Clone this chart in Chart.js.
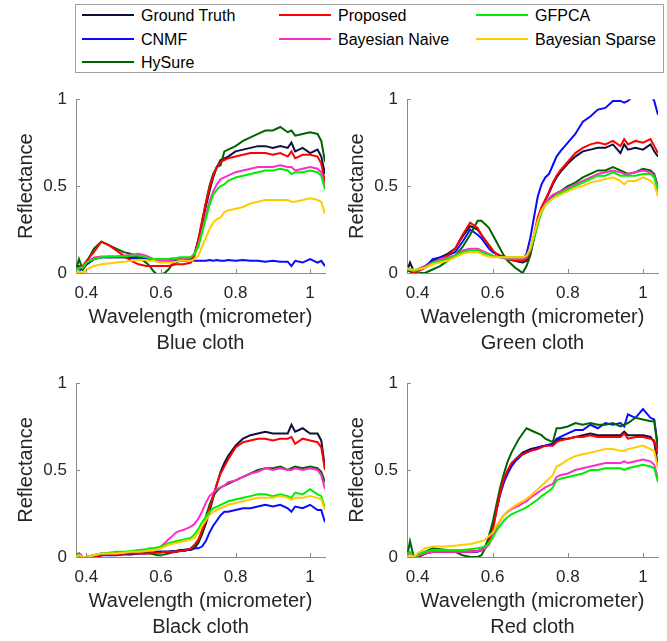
<!DOCTYPE html>
<html>
<head>
<meta charset="utf-8">
<script src="https://cdn.jsdelivr.net/npm/chart.js@4"></script>
<style>
  body { margin: 0; background: #fff; font-family: 'Liberation Sans', Arial, sans-serif; }
  #wrap { position: relative; width: 667px; height: 641px; overflow: hidden; }
  canvas { position: absolute; }
  #legendBox { position: absolute; left: 75px; top: 4px; width: 587px; height: 67px; border: 1px solid #a0a0a0; }
  .sample { position: absolute; width: 52px; height: 2px; }
  .entry { position: absolute; font-size: 16px; line-height: 20px; color: #000; white-space: nowrap; }
</style>
</head>
<body>
<div id="wrap">
  <div id="legendBox"></div>
  <canvas id="blueCloth"></canvas>
  <canvas id="greenCloth"></canvas>
  <canvas id="blackCloth"></canvas>
  <canvas id="redCloth"></canvas>
</div>
<script>
// wavelengths in micrometer (shared by all panels)
const wavelength = [0.372, 0.38, 0.39, 0.40, 0.42, 0.44, 0.46, 0.48, 0.50, 0.52, 0.54, 0.56,
  0.57, 0.58, 0.59, 0.60, 0.61, 0.62, 0.63, 0.64, 0.65, 0.66, 0.67, 0.68, 0.69, 0.70, 0.71, 0.72, 0.73, 0.74, 0.75, 0.76, 0.77, 0.78,
  0.80, 0.82, 0.84, 0.86, 0.88, 0.90, 0.92, 0.94,
  0.95, 0.96, 0.98, 1.00, 1.02, 1.03, 1.04];
const xTicks = [0.4, 0.6, 0.8, 1];
const yTicks = [0, 0.5, 1];

const seriesNames = ["Ground Truth", "CNMF", "HySure", "Proposed", "Bayesian Naive", "GFPCA", "Bayesian Sparse"];
const seriesColors = ["#10103c", "#0a0aff", "#006400", "#ff0000", "#ff2ccc", "#00ee00", "#ffcc00"];

// Blue cloth
const blueGT = [0.03,0.04,0.02,0.05,0.08,0.09,0.09,0.09,0.09,0.09,0.09,0.08,
  0.08,0.075,0.07,0.07,0.07,0.07,0.07,0.07,0.07,0.07,0.07,0.08,0.11,0.18,0.28,0.38,0.47,0.55,0.61,0.65,0.66,0.67,
  0.70,0.71,0.72,0.73,0.73,0.72,0.73,0.72,
  0.75,0.70,0.72,0.69,0.71,0.67,0.57];
const blueCNMF = [0.0,0.01,0.03,0.05,0.08,0.09,0.09,0.09,0.09,0.085,0.085,0.08,
  0.08,0.08,0.08,0.075,0.075,0.075,0.075,0.075,0.075,0.075,0.075,0.075,0.07,0.07,0.07,0.07,0.075,0.07,0.075,0.07,0.07,0.075,
  0.07,0.075,0.07,0.07,0.065,0.07,0.065,0.065,
  0.04,0.07,0.06,0.08,0.06,0.07,0.04];
const blueHySure = [0.02,0.08,0.02,0.06,0.14,0.18,0.16,0.14,0.12,0.11,0.09,0.06,
  0.04,0.01,-0.01,-0.01,0.0,0.02,0.05,0.06,0.07,0.07,0.075,0.08,0.11,0.19,0.29,0.40,0.50,0.57,0.61,0.62,0.70,0.71,
  0.73,0.76,0.78,0.80,0.82,0.82,0.84,0.81,
  0.82,0.79,0.80,0.81,0.80,0.76,0.64];
const blueProposed = [0.02,0.03,0.04,0.07,0.12,0.18,0.16,0.13,0.10,0.07,0.05,0.04,
  0.04,0.04,0.04,0.04,0.04,0.04,0.045,0.05,0.05,0.05,0.055,0.06,0.10,0.19,0.30,0.40,0.49,0.56,0.61,0.64,0.65,0.66,
  0.67,0.68,0.69,0.69,0.69,0.68,0.69,0.67,
  0.70,0.66,0.68,0.68,0.67,0.63,0.52];
const blueNaive = [0.02,0.03,0.03,0.06,0.09,0.095,0.095,0.095,0.10,0.105,0.11,0.10,
  0.09,0.08,0.075,0.07,0.07,0.07,0.075,0.08,0.08,0.08,0.085,0.09,0.11,0.16,0.24,0.33,0.41,0.47,0.51,0.54,0.55,0.56,
  0.58,0.59,0.60,0.61,0.61,0.61,0.62,0.61,
  0.61,0.59,0.60,0.61,0.60,0.58,0.50];
const blueGFPCA = [0.02,0.03,0.03,0.06,0.08,0.09,0.095,0.095,0.095,0.10,0.10,0.09,
  0.085,0.08,0.08,0.08,0.08,0.08,0.085,0.085,0.09,0.09,0.09,0.09,0.11,0.15,0.23,0.31,0.39,0.45,0.48,0.50,0.51,0.53,
  0.55,0.56,0.57,0.58,0.59,0.59,0.60,0.59,
  0.57,0.58,0.58,0.59,0.58,0.56,0.48];
const blueSparse = [0.0,0.01,0.0,0.02,0.04,0.05,0.055,0.06,0.065,0.07,0.075,0.075,
  0.07,0.07,0.065,0.06,0.06,0.06,0.06,0.065,0.07,0.07,0.07,0.07,0.08,0.10,0.15,0.20,0.25,0.29,0.31,0.32,0.35,0.36,
  0.37,0.38,0.40,0.41,0.42,0.42,0.42,0.42,
  0.41,0.41,0.42,0.43,0.42,0.41,0.34];

// Green cloth
const greenGT = [0.01,0.06,0.01,0.02,0.04,0.07,0.09,0.11,0.14,0.21,0.27,0.25,
  0.22,0.19,0.16,0.13,0.11,0.10,0.09,0.08,0.075,0.07,0.065,0.06,0.07,0.11,0.20,0.30,0.37,0.42,0.46,0.51,0.55,0.58,
  0.63,0.67,0.70,0.71,0.72,0.72,0.74,0.69,
  0.74,0.71,0.72,0.71,0.74,0.70,0.67];
const greenCNMF = [0.02,0.01,0.0,0.01,0.03,0.08,0.09,0.10,0.12,0.18,0.25,0.22,
  0.20,0.17,0.14,0.12,0.11,0.10,0.095,0.09,0.085,0.08,0.08,0.08,0.11,0.20,0.32,0.44,0.51,0.55,0.57,0.62,0.67,0.70,
  0.75,0.80,0.87,0.90,0.94,0.95,0.99,0.99,
  0.98,0.99,1.03,1.06,1.03,0.99,0.91];
const greenHySure = [0.02,0.01,0.0,0.0,0.0,0.02,0.04,0.07,0.10,0.15,0.22,0.30,
  0.30,0.28,0.26,0.22,0.18,0.14,0.10,0.07,0.05,0.03,0.015,0.0,0.04,0.10,0.20,0.29,0.36,0.40,0.42,0.44,0.46,0.47,
  0.50,0.52,0.55,0.57,0.59,0.59,0.61,0.59,
  0.58,0.57,0.58,0.60,0.59,0.57,0.50];
const greenProposed = [0.03,0.02,0.0,0.01,0.03,0.06,0.08,0.10,0.14,0.22,0.29,0.26,
  0.22,0.19,0.16,0.13,0.11,0.10,0.09,0.08,0.075,0.07,0.07,0.07,0.08,0.12,0.22,0.32,0.38,0.42,0.47,0.52,0.56,0.59,
  0.64,0.69,0.72,0.74,0.75,0.74,0.76,0.73,
  0.77,0.74,0.76,0.75,0.77,0.73,0.69];
const greenNaive = [0.02,0.02,0.01,0.02,0.04,0.06,0.08,0.09,0.10,0.13,0.14,0.14,
  0.13,0.12,0.11,0.10,0.095,0.09,0.085,0.08,0.08,0.08,0.08,0.08,0.09,0.13,0.21,0.29,0.36,0.40,0.43,0.45,0.46,0.47,
  0.49,0.51,0.53,0.55,0.57,0.58,0.59,0.58,
  0.57,0.57,0.58,0.59,0.58,0.56,0.49];
const greenGFPCA = [0.02,0.02,0.01,0.02,0.03,0.06,0.07,0.08,0.10,0.12,0.13,0.13,
  0.12,0.11,0.105,0.10,0.095,0.09,0.09,0.09,0.09,0.09,0.09,0.09,0.10,0.13,0.20,0.28,0.35,0.39,0.41,0.43,0.45,0.46,
  0.48,0.50,0.52,0.54,0.56,0.56,0.58,0.56,
  0.56,0.56,0.56,0.57,0.57,0.55,0.47];
const greenSparse = [0.03,0.02,0.02,0.02,0.03,0.05,0.06,0.07,0.09,0.11,0.12,0.12,
  0.11,0.10,0.095,0.09,0.09,0.09,0.09,0.09,0.09,0.09,0.09,0.09,0.10,0.14,0.22,0.30,0.36,0.39,0.41,0.43,0.44,0.45,
  0.47,0.49,0.50,0.52,0.53,0.54,0.55,0.53,
  0.51,0.53,0.53,0.55,0.53,0.51,0.44];

// Black cloth
const blackGT = [0.01,0.02,0.0,0.0,0.0,0.01,0.015,0.015,0.02,0.02,0.02,0.025,
  0.025,0.025,0.03,0.03,0.03,0.03,0.03,0.03,0.035,0.035,0.04,0.04,0.05,0.08,0.13,0.19,0.26,0.34,0.42,0.49,0.54,0.58,
  0.64,0.68,0.70,0.71,0.72,0.71,0.71,0.71,
  0.76,0.72,0.74,0.71,0.71,0.67,0.51];
const blackCNMF = [0.0,0.0,0.0,0.0,0.0,0.01,0.01,0.01,0.015,0.015,0.02,0.02,
  0.025,0.025,0.03,0.03,0.03,0.03,0.035,0.035,0.04,0.04,0.045,0.045,0.05,0.05,0.06,0.09,0.14,0.18,0.21,0.24,0.26,0.26,
  0.27,0.28,0.28,0.29,0.30,0.29,0.30,0.28,
  0.26,0.29,0.28,0.30,0.27,0.27,0.20];
const blackHySure = [0.0,0.01,0.0,0.0,0.01,0.02,0.02,0.02,0.02,0.025,0.03,0.025,
  0.02,0.015,0.01,0.01,0.015,0.02,0.025,0.03,0.035,0.035,0.04,0.045,0.06,0.09,0.15,0.23,0.30,0.35,0.38,0.40,0.41,0.42,
  0.44,0.46,0.48,0.50,0.51,0.51,0.52,0.50,
  0.51,0.52,0.51,0.52,0.51,0.49,0.43];
const blackProposed = [0.01,0.01,0.0,0.0,0.0,0.01,0.015,0.015,0.02,0.02,0.02,0.02,
  0.02,0.025,0.025,0.025,0.03,0.03,0.03,0.03,0.035,0.035,0.04,0.05,0.07,0.10,0.15,0.21,0.28,0.35,0.42,0.48,0.52,0.56,
  0.63,0.66,0.67,0.68,0.68,0.67,0.68,0.68,
  0.69,0.65,0.68,0.67,0.66,0.63,0.50];
const blackNaive = [0.01,0.02,0.0,0.0,0.01,0.02,0.02,0.02,0.025,0.03,0.03,0.035,
  0.04,0.045,0.05,0.06,0.08,0.10,0.12,0.14,0.15,0.155,0.165,0.175,0.19,0.22,0.26,0.31,0.35,0.37,0.39,0.40,0.41,0.43,
  0.44,0.46,0.48,0.49,0.51,0.50,0.51,0.50,
  0.50,0.51,0.50,0.51,0.50,0.47,0.39];
const blackGFPCA = [0.01,0.01,0.0,0.0,0.01,0.02,0.025,0.03,0.03,0.035,0.04,0.045,
  0.05,0.05,0.055,0.06,0.07,0.08,0.085,0.09,0.095,0.10,0.105,0.11,0.13,0.16,0.20,0.23,0.26,0.28,0.29,0.30,0.31,0.32,
  0.33,0.34,0.35,0.36,0.36,0.35,0.36,0.35,
  0.34,0.37,0.36,0.39,0.36,0.35,0.28];
const blackSparse = [0.0,0.01,0.0,0.0,0.01,0.02,0.02,0.02,0.025,0.03,0.03,0.035,
  0.04,0.04,0.045,0.05,0.06,0.07,0.075,0.08,0.085,0.09,0.095,0.10,0.11,0.14,0.18,0.21,0.24,0.26,0.27,0.28,0.29,0.30,
  0.31,0.32,0.33,0.34,0.34,0.34,0.35,0.34,
  0.33,0.34,0.34,0.35,0.34,0.33,0.27];

// Red cloth
const redGT = [0.01,0.02,0.0,0.0,0.02,0.03,0.03,0.03,0.03,0.03,0.03,0.035,
  0.04,0.06,0.10,0.17,0.27,0.37,0.44,0.49,0.53,0.56,0.58,0.60,0.61,0.62,0.625,0.63,0.635,0.64,0.645,0.65,0.67,0.68,
  0.68,0.69,0.70,0.71,0.70,0.70,0.70,0.70,
  0.72,0.70,0.70,0.70,0.69,0.66,0.52];
const redCNMF = [0.02,0.02,0.0,0.0,0.02,0.03,0.03,0.03,0.03,0.03,0.03,0.03,
  0.04,0.06,0.10,0.17,0.27,0.36,0.43,0.48,0.52,0.55,0.57,0.59,0.60,0.61,0.62,0.63,0.635,0.64,0.645,0.65,0.68,0.69,
  0.71,0.73,0.73,0.76,0.74,0.77,0.76,0.77,
  0.75,0.82,0.80,0.85,0.80,0.79,0.63];
const redHySure = [0.0,0.09,0.0,0.01,0.03,0.05,0.045,0.04,0.03,0.01,0.0,0.0,
  0.01,0.05,0.12,0.20,0.30,0.40,0.48,0.55,0.60,0.64,0.68,0.71,0.74,0.73,0.72,0.71,0.70,0.68,0.67,0.66,0.74,0.74,
  0.75,0.77,0.76,0.77,0.76,0.76,0.77,0.75,
  0.76,0.77,0.80,0.79,0.78,0.78,0.62];
const redProposed = [0.01,0.02,0.0,0.0,0.02,0.03,0.03,0.03,0.03,0.03,0.03,0.035,
  0.04,0.05,0.09,0.15,0.26,0.37,0.45,0.50,0.54,0.56,0.58,0.59,0.60,0.61,0.615,0.62,0.63,0.64,0.64,0.64,0.66,0.67,
  0.68,0.69,0.69,0.70,0.69,0.69,0.69,0.69,
  0.71,0.68,0.69,0.69,0.68,0.67,0.59];
const redNaive = [0.01,0.02,0.0,0.01,0.02,0.03,0.03,0.03,0.03,0.03,0.03,0.035,
  0.04,0.05,0.07,0.12,0.17,0.21,0.24,0.26,0.275,0.285,0.295,0.31,0.32,0.34,0.355,0.37,0.385,0.40,0.41,0.42,0.46,0.47,
  0.48,0.50,0.51,0.52,0.53,0.54,0.54,0.54,
  0.55,0.54,0.55,0.56,0.55,0.53,0.45];
const redGFPCA = [0.02,0.03,0.0,0.01,0.03,0.04,0.04,0.04,0.04,0.04,0.045,0.05,
  0.055,0.06,0.08,0.11,0.15,0.18,0.21,0.23,0.245,0.255,0.265,0.275,0.285,0.30,0.315,0.33,0.35,0.365,0.38,0.40,0.44,0.45,
  0.46,0.47,0.48,0.50,0.50,0.51,0.51,0.51,
  0.50,0.51,0.52,0.53,0.52,0.51,0.43];
const redSparse = [0.0,0.01,0.0,0.02,0.05,0.06,0.06,0.06,0.065,0.07,0.075,0.085,
  0.09,0.10,0.12,0.14,0.18,0.21,0.24,0.265,0.28,0.295,0.31,0.32,0.335,0.35,0.37,0.39,0.41,0.43,0.45,0.47,0.52,0.53,
  0.56,0.58,0.59,0.60,0.61,0.62,0.62,0.61,
  0.61,0.62,0.63,0.64,0.62,0.61,0.51];

const axisColor = "#8a8a8a";
const textColor = "#262626";
const fontFamily = "'Liberation Sans', Arial, sans-serif";

// small tick marks pointing into the plot, like the original figure
const inwardTicks = {
  id: "inwardTicks",
  afterDraw(chart) {
    const { ctx, chartArea, scales } = chart;
    ctx.save();
    ctx.strokeStyle = axisColor;
    ctx.lineWidth = 1;
    ctx.beginPath();
    scales.x.ticks.forEach(t => {
      const px = Math.round(scales.x.getPixelForValue(t.value)) + 0.5;
      ctx.moveTo(px, chartArea.bottom);
      ctx.lineTo(px, chartArea.bottom - 4);
    });
    scales.y.ticks.forEach(t => {
      const py = Math.round(scales.y.getPixelForValue(t.value)) + 0.5;
      ctx.moveTo(chartArea.left, py);
      ctx.lineTo(chartArea.left + 4, py);
    });
    ctx.stroke();
    ctx.restore();
  }
};

function makePanel(id, cloth, series, box) {
  const canvas = document.getElementById(id);
  canvas.width = box.w;
  canvas.height = box.h;
  canvas.style.left = box.left + "px";
  canvas.style.top = box.top + "px";

  new Chart(canvas, {
    type: "line",
    data: {
      datasets: seriesNames.map((name, i) => ({
        label: name,
        data: series[i].map((v, k) => ({ x: wavelength[k], y: v })),
        borderColor: seriesColors[i],
        borderWidth: 2,
        pointRadius: 0,
        tension: 0,
        fill: false,
        order: seriesNames.length - i
      }))
    },
    options: {
      responsive: false,
      animation: false,
      events: [],
      layout: { padding: { top: box.padTop, right: box.padRight, left: 0, bottom: 0 } },
      plugins: { legend: { display: false }, tooltip: { enabled: false } },
      scales: {
        x: {
          type: "linear",
          min: 0.372,
          max: 1.04,
          afterBuildTicks: s => { s.ticks = xTicks.map(v => ({ value: v })); },
          afterFit: s => { s.height = 84; },
          grid: { display: false, drawTicks: false },
          border: { display: true, color: axisColor, width: 1 },
          ticks: { color: textColor, font: { family: fontFamily, size: 17 }, padding: 10, maxRotation: 0, autoSkip: false, callback: v => String(v) },
          title: {
            display: true,
            text: ["Wavelength (micrometer)", cloth],
            color: textColor,
            font: { family: fontFamily, size: 20, lineHeight: 1.28 },
            padding: { top: 0, bottom: 1 }
          }
        },
        y: {
          min: 0,
          max: 1,
          afterBuildTicks: s => { s.ticks = yTicks.map(v => ({ value: v })); },
          afterFit: s => { s.width = 76; },
          grid: { display: false, drawTicks: false },
          border: { display: true, color: axisColor, width: 1 },
          ticks: { color: textColor, font: { family: fontFamily, size: 17 }, padding: 9, callback: v => String(v) },
          title: {
            display: true,
            text: "Reflectance",
            color: textColor,
            font: { family: fontFamily, size: 20, lineHeight: 1.2 },
            padding: { top: 14, bottom: 0 }
          }
        }
      }
    },
    plugins: [inwardTicks]
  });
}

makePanel("blueCloth", "Blue cloth",
  [blueGT, blueCNMF, blueHySure, blueProposed, blueNaive, blueGFPCA, blueSparse],
  { left: 0, top: 80, w: 334, h: 277, padTop: 19, padRight: 9 });
makePanel("greenCloth", "Green cloth",
  [greenGT, greenCNMF, greenHySure, greenProposed, greenNaive, greenGFPCA, greenSparse],
  { left: 331, top: 80, w: 336, h: 277, padTop: 19, padRight: 9 });
makePanel("blackCloth", "Black cloth",
  [blackGT, blackCNMF, blackHySure, blackProposed, blackNaive, blackGFPCA, blackSparse],
  { left: 0, top: 362, w: 334, h: 279, padTop: 21, padRight: 9 });
makePanel("redCloth", "Red cloth",
  [redGT, redCNMF, redHySure, redProposed, redNaive, redGFPCA, redSparse],
  { left: 331, top: 362, w: 336, h: 279, padTop: 21, padRight: 9 });

// legend: three columns, filled column by column
const wrap = document.getElementById("wrap");
const colX = [82, 279, 476];
const rowBase = [21.7, 45, 68.3];
seriesNames.forEach((name, i) => {
  const col = i < 3 ? 0 : (i < 5 ? 1 : 2);
  const row = i < 3 ? i : (i < 5 ? i - 3 : i - 5);
  const line = document.createElement("div");
  line.className = "sample";
  line.style.background = seriesColors[i];
  line.style.left = colX[col] + "px";
  line.style.top = (rowBase[row] - 7.5) + "px";
  wrap.appendChild(line);
  const label = document.createElement("div");
  label.className = "entry";
  label.textContent = name;
  label.style.left = (colX[col] + 59) + "px";
  label.style.top = (rowBase[row] - 15.5) + "px";
  wrap.appendChild(label);
});
</script>
</body>
</html>
